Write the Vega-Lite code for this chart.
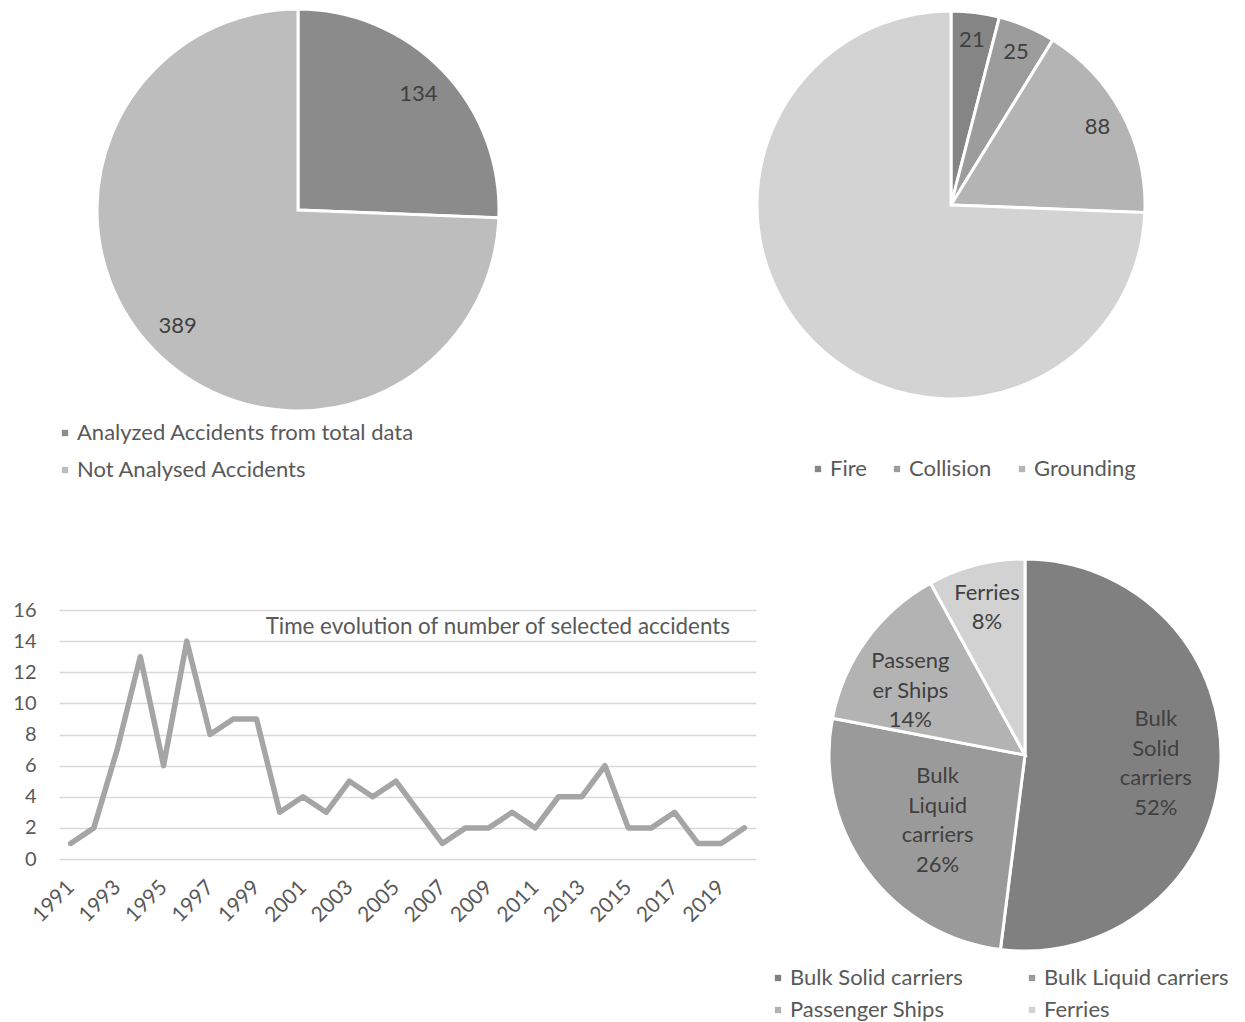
{
  "$schema": "https://vega.github.io/schema/vega-lite/v6.json",
  "autosize": {"type": "pad"},
  "padding": {"left": 12, "top": 0, "right": 0, "bottom": 0},
  "background": "white",
  "bounds": "flush",
  "columns": 2,
  "spacing": {"row": 190, "column": 0},
  "config": {
    "font": "Lato",
    "view": {"stroke": null},
    "legend": {
      "title": null,
      "symbolType": "square",
      "symbolSize": 40,
      "symbolStrokeWidth": 0,
      "labelFont": "Lato",
      "labelFontSize": 22,
      "labelColor": "#595959",
      "labelLimit": 600,
      "labelOffset": 1,
      "padding": 0
    }
  },
  "resolve": {"scale": {"color": "independent", "theta": "independent"}, "legend": {"color": "independent"}},
  "concat": [
    {
      "width": 478,
      "height": 420,
      "data": {"values": [
        {"category": "Analyzed Accidents from total data", "accidents": 134},
        {"category": "Not Analysed Accidents", "accidents": 389}
      ]},
      "transform": [{"window": [{"op": "row_number", "as": "idx"}]}],
      "encoding": {
        "theta": {"field": "accidents", "type": "quantitative", "stack": true},
        "order": {"field": "idx", "type": "quantitative"},
        "color": {
          "field": "category", "type": "nominal", "sort": null,
          "scale": {"domain": ["Analyzed Accidents from total data", "Not Analysed Accidents"], "range": ["#8b8b8b", "#bdbdbd"]},
          "legend": {"orient": "none", "legendX": -5, "legendY": 422, "direction": "vertical", "rowPadding": 15}
        }
      },
      "layer": [
        {"mark": {"type": "arc", "outerRadius": 201, "stroke": "white", "strokeWidth": 3}},
        {
          "mark": {"type": "text", "radius": 167, "fontSize": 22, "font": "Lato"},
          "encoding": {"text": {"field": "accidents", "type": "quantitative"}, "color": {"value": "#404040"}}
        }
      ]
    },
    {
      "width": 390,
      "height": 410,
      "data": {"values": [
        {"cause": "Fire", "accidents": 21},
        {"cause": "Collision", "accidents": 25},
        {"cause": "Grounding", "accidents": 88},
        {"cause": "Not analysed", "accidents": 389}
      ]},
      "transform": [{"window": [{"op": "row_number", "as": "idx"}]}],
      "encoding": {
        "theta": {"field": "accidents", "type": "quantitative", "stack": true},
        "order": {"field": "idx", "type": "quantitative"},
        "color": {
          "field": "cause", "type": "nominal", "sort": null,
          "scale": {"domain": ["Fire", "Collision", "Grounding", "Not analysed"], "range": ["#858585", "#9c9c9c", "#b4b4b4", "#d3d3d3"]},
          "legend": {"orient": "none", "legendX": 51, "legendY": 458, "direction": "horizontal", "values": ["Fire", "Collision", "Grounding"], "columnPadding": 19}
        }
      },
      "layer": [
        {"mark": {"type": "arc", "outerRadius": 194, "stroke": "white", "strokeWidth": 3}},
        {
          "transform": [{"calculate": "datum.cause === 'Not analysed' ? '' : '' + datum.accidents", "as": "label"}],
          "mark": {"type": "text", "radius": 166, "fontSize": 22, "font": "Lato"},
          "encoding": {"text": {"field": "label", "type": "nominal"}, "color": {"value": "#404040"}}
        }
      ]
    },
    {
      "width": 697,
      "height": 249,
      "title": {
        "text": "Time evolution of number of selected accidents",
        "anchor": "end", "frame": "group", "offset": -38, "dx": -26,
        "fontSize": 22.4, "fontWeight": "normal", "color": "#595959", "font": "Lato"
      },
      "data": {"values": [
        {"year": 1991, "count": 1}, {"year": 1992, "count": 2}, {"year": 1993, "count": 7},
        {"year": 1994, "count": 13}, {"year": 1995, "count": 6}, {"year": 1996, "count": 14},
        {"year": 1997, "count": 8}, {"year": 1998, "count": 9}, {"year": 1999, "count": 9},
        {"year": 2000, "count": 3}, {"year": 2001, "count": 4}, {"year": 2002, "count": 3},
        {"year": 2003, "count": 5}, {"year": 2004, "count": 4}, {"year": 2005, "count": 5},
        {"year": 2006, "count": 3}, {"year": 2007, "count": 1}, {"year": 2008, "count": 2},
        {"year": 2009, "count": 2}, {"year": 2010, "count": 3}, {"year": 2011, "count": 2},
        {"year": 2012, "count": 4}, {"year": 2013, "count": 4}, {"year": 2014, "count": 6},
        {"year": 2015, "count": 2}, {"year": 2016, "count": 2}, {"year": 2017, "count": 3},
        {"year": 2018, "count": 1}, {"year": 2019, "count": 1}, {"year": 2020, "count": 2}
      ]},
      "mark": {"type": "line", "color": "#a5a5a5", "strokeWidth": 5.5, "strokeJoin": "round", "strokeCap": "round"},
      "encoding": {
        "x": {
          "field": "year", "type": "ordinal",
          "scale": {"type": "point", "padding": 0.5},
          "axis": {
            "title": null,
            "values": [1991, 1993, 1995, 1997, 1999, 2001, 2003, 2005, 2007, 2009, 2011, 2013, 2015, 2017, 2019],
            "labelAngle": -45, "labelAlign": "right", "labelBaseline": "middle",
            "labelFontSize": 21, "labelColor": "#595959", "labelFont": "Lato",
            "labelPadding": 25, "ticks": false, "domain": false, "grid": false
          }
        },
        "y": {
          "field": "count", "type": "quantitative",
          "scale": {"domain": [0, 16], "nice": false},
          "axis": {
            "title": null,
            "values": [0, 2, 4, 6, 8, 10, 12, 14, 16],
            "labelFontSize": 20, "labelColor": "#595959", "labelFont": "Lato",
            "labelPadding": 23, "ticks": false, "domain": false,
            "grid": true, "gridColor": "#d9d9d9", "gridWidth": 1.5
          }
        }
      }
    },
    {
      "width": 538,
      "height": 290,
      "data": {"values": [
        {"ship": "Bulk Solid carriers", "wrapped": "Bulk\nSolid\ncarriers", "share": 52},
        {"ship": "Bulk Liquid carriers", "wrapped": "Bulk\nLiquid\ncarriers", "share": 26},
        {"ship": "Passenger Ships", "wrapped": "Passeng\ner Ships", "share": 14},
        {"ship": "Ferries", "wrapped": "Ferries", "share": 8}
      ]},
      "transform": [
        {"window": [{"op": "row_number", "as": "idx"}]},
        {"stack": "share", "groupby": [], "sort": [{"field": "idx", "order": "ascending"}], "as": ["s0", "s1"]},
        {"calculate": "(datum.s0 + datum.s1) / 2", "as": "mid"},
        {"calculate": "datum.wrapped + '\\n' + datum.share + '%'", "as": "label"}
      ],
      "layer": [
        {
          "mark": {"type": "arc", "outerRadius": 196, "stroke": "white", "strokeWidth": 3},
          "encoding": {
            "theta": {"field": "s0", "type": "quantitative", "scale": {"domain": [0, 100]}},
            "theta2": {"field": "s1"},
            "color": {
              "field": "ship", "type": "nominal", "sort": null,
              "scale": {"domain": ["Bulk Solid carriers", "Bulk Liquid carriers", "Passenger Ships", "Ferries"], "range": ["#808080", "#9a9a9a", "#b3b3b3", "#d2d2d2"]},
              "legend": {"orient": "none", "legendX": 11, "legendY": 357, "columns": 2, "direction": "horizontal", "rowPadding": 10, "columnPadding": 58}
            }
          }
        },
        {
          "transform": [{"filter": "datum.ship === 'Bulk Solid carriers'"}],
          "mark": {"type": "text", "radius": 131, "dy": -44, "fontSize": 22, "font": "Lato", "lineBreak": "\n", "lineHeight": 29.5, "color": "#404040"},
          "encoding": {"theta": {"field": "mid", "type": "quantitative", "stack": null}, "text": {"field": "label", "type": "nominal"}}
        },
        {
          "transform": [{"filter": "datum.ship === 'Bulk Liquid carriers'"}],
          "mark": {"type": "text", "radius": 108, "dy": -42, "fontSize": 22, "font": "Lato", "lineBreak": "\n", "lineHeight": 29.5, "color": "#404040"},
          "encoding": {"theta": {"field": "mid", "type": "quantitative", "stack": null}, "text": {"field": "label", "type": "nominal"}}
        },
        {
          "transform": [{"filter": "datum.ship === 'Passenger Ships'"}],
          "mark": {"type": "text", "radius": 133, "dx": -7, "dy": -15.5, "fontSize": 22, "font": "Lato", "lineBreak": "\n", "lineHeight": 29.5, "color": "#404040"},
          "encoding": {"theta": {"field": "mid", "type": "quantitative", "stack": null}, "text": {"field": "label", "type": "nominal"}}
        },
        {
          "transform": [{"filter": "datum.ship === 'Ferries'"}],
          "mark": {"type": "text", "radius": 153, "dy": -14, "fontSize": 22, "font": "Lato", "lineBreak": "\n", "lineHeight": 29.5, "color": "#404040"},
          "encoding": {"theta": {"field": "mid", "type": "quantitative", "stack": null}, "text": {"field": "label", "type": "nominal"}}
        }
      ]
    }
  ]
}
